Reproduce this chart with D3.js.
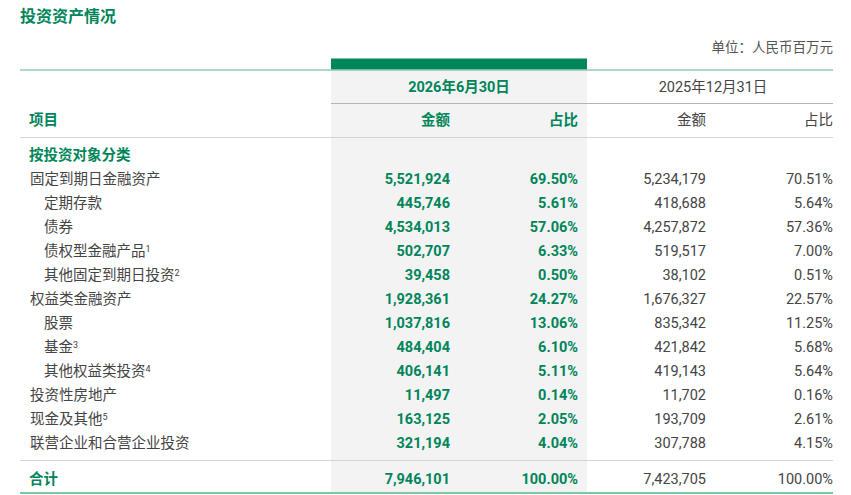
<!DOCTYPE html>
<html>
<head>
<meta charset="utf-8">
<script src="https://cdn.jsdelivr.net/npm/d3@7"></script>
<style>
  body { margin: 0; background: #fff; }
  text { font-family: Roboto, "Noto Sans CJK SC", sans-serif; }
</style>
</head>
<body>
<div id="table"></div>
<script>
const title = '投资资产情况';
const unitLabel = '单位：人民币百万元';
const periods = ['2026年6月30日', '2025年12月31日'];
const colHeads = ['项目', '金额', '占比', '金额', '占比'];
const sectionLabel = '按投资对象分类';

const items = ['固定到期日金融资产', '定期存款', '债券', '债权型金融产品', '其他固定到期日投资',
  '权益类金融资产', '股票', '基金', '其他权益类投资', '投资性房地产', '现金及其他', '联营企业和合营企业投资'];
const levels = [0, 1, 1, 1, 1, 0, 1, 1, 1, 0, 0, 0];
const notes = ['', '', '', '1', '2', '', '', '3', '4', '', '5', ''];
const amount2026 = [5521924, 445746, 4534013, 502707, 39458, 1928361, 1037816, 484404, 406141, 11497, 163125, 321194];
const share2026 = [69.50, 5.61, 57.06, 6.33, 0.50, 24.27, 13.06, 6.10, 5.11, 0.14, 2.05, 4.04];
const amount2025 = [5234179, 418688, 4257872, 519517, 38102, 1676327, 835342, 421842, 419143, 11702, 193709, 307788];
const share2025 = [70.51, 5.64, 57.36, 7.00, 0.51, 22.57, 11.25, 5.68, 5.64, 0.16, 2.61, 4.15];
const totalLabel = '合计';
const total2026 = 7946101, totalShare2026 = 100.00;
const total2025 = 7423705, totalShare2025 = 100.00;

const width = 851, height = 495;
const green = '#00855a', grey = '#444';
const fs = 14.5;
const fmt = d3.format(',');
const pct = d => d3.format('.2f')(d) + '%';

const svg = d3.select('#table').append('svg')
  .attr('width', width).attr('height', height);

// column edges
const left = 20, right = 833;
const band = { x0: 331, x1: 587 };
const colRight = [null, 450, 578, 706, 833];

// rows: 0 = section, 1..12 items
const y = d3.scaleLinear().domain([0, 1]).range([155, 179]);

// highlighted column background
svg.append('rect')
  .attr('x', band.x0).attr('y', 70)
  .attr('width', band.x1 - band.x0).attr('height', 422)
  .attr('fill', '#f3f3f3');
svg.append('rect')
  .attr('x', band.x0).attr('y', 58.5)
  .attr('width', band.x1 - band.x0).attr('height', 11)
  .attr('fill', '#008658');

// rules
svg.append('line').attr('x1', left).attr('x2', right).attr('y1', 70).attr('y2', 70)
  .attr('stroke', '#5cb592').attr('stroke-width', 1.2);
svg.append('line').attr('x1', band.x0).attr('x2', right).attr('y1', 103.5).attr('y2', 103.5)
  .attr('stroke', '#b5b5b5').attr('stroke-width', 1);
svg.append('line').attr('x1', left).attr('x2', right).attr('y1', 137.5).attr('y2', 137.5)
  .attr('stroke', '#d4d4d4').attr('stroke-width', 1);
svg.append('line').attr('x1', left).attr('x2', right).attr('y1', 460.5).attr('y2', 460.5)
  .attr('stroke', '#d4d4d4').attr('stroke-width', 1);
svg.append('line').attr('x1', left).attr('x2', right).attr('y1', 493).attr('y2', 493)
  .attr('stroke', '#7cc8a4').attr('stroke-width', 2);

// title + unit
svg.append('text').attr('x', 20).attr('y', 16).attr('dy', '0.35em')
  .attr('font-size', 16).attr('font-weight', 700).attr('fill', green).text(title);
svg.append('text').attr('x', right).attr('y', 47).attr('dy', '0.35em')
  .attr('text-anchor', 'end').attr('font-size', 13.5).attr('fill', '#555').text(unitLabel);

// header
svg.append('text').attr('x', (band.x0 + band.x1) / 2).attr('y', 87).attr('dy', '0.35em')
  .attr('text-anchor', 'middle').attr('font-size', fs).attr('font-weight', 700)
  .attr('fill', green).text(periods[0]);
svg.append('text').attr('x', (band.x1 + right) / 2 + 3).attr('y', 87).attr('dy', '0.35em')
  .attr('text-anchor', 'middle').attr('font-size', fs).attr('fill', grey).text(periods[1]);

colHeads.forEach((h, i) => {
  svg.append('text')
    .attr('x', i === 0 ? 29 : colRight[i]).attr('y', 120).attr('dy', '0.35em')
    .attr('text-anchor', i === 0 ? 'start' : 'end')
    .attr('font-size', fs).attr('font-weight', i < 3 ? 700 : 400)
    .attr('fill', i < 3 ? green : grey).text(h);
});

// section
svg.append('text').attr('x', 29).attr('y', y(0)).attr('dy', '0.35em')
  .attr('font-size', fs).attr('font-weight', 700).attr('fill', green).text(sectionLabel);

// body rows
const rows = svg.selectAll('g.row').data(items).enter().append('g')
  .attr('class', 'row')
  .attr('transform', (d, i) => `translate(0,${y(i + 1)})`);

const lab = rows.append('text')
  .attr('x', (d, i) => levels[i] ? 44 : 30).attr('dy', '0.35em')
  .attr('font-size', fs).attr('fill', grey);
lab.append('tspan').text(d => d);
lab.append('tspan').attr('dy', '-0.45em').attr('font-size', 9)
  .text((d, i) => notes[i]);

const cols = [
  { v: amount2026, f: fmt, bold: true },
  { v: share2026, f: pct, bold: true },
  { v: amount2025, f: fmt, bold: false },
  { v: share2025, f: pct, bold: false }
];
cols.forEach((c, j) => {
  rows.append('text')
    .attr('x', colRight[j + 1]).attr('dy', '0.35em').attr('text-anchor', 'end')
    .attr('font-size', fs).attr('font-weight', c.bold ? 700 : 400)
    .attr('fill', c.bold ? green : grey)
    .text((d, i) => c.f(c.v[i]));
});

// total row
const ty = 479;
svg.append('text').attr('x', 29).attr('y', ty).attr('dy', '0.35em')
  .attr('font-size', fs).attr('font-weight', 700).attr('fill', green).text(totalLabel);
[[fmt(total2026), true], [pct(totalShare2026), true], [fmt(total2025), false], [pct(totalShare2025), false]]
  .forEach(([t, b], j) => {
    svg.append('text').attr('x', colRight[j + 1]).attr('y', ty).attr('dy', '0.35em')
      .attr('text-anchor', 'end').attr('font-size', fs).attr('font-weight', b ? 700 : 400)
      .attr('fill', b ? green : grey).text(t);
  });
</script>
</body>
</html>
